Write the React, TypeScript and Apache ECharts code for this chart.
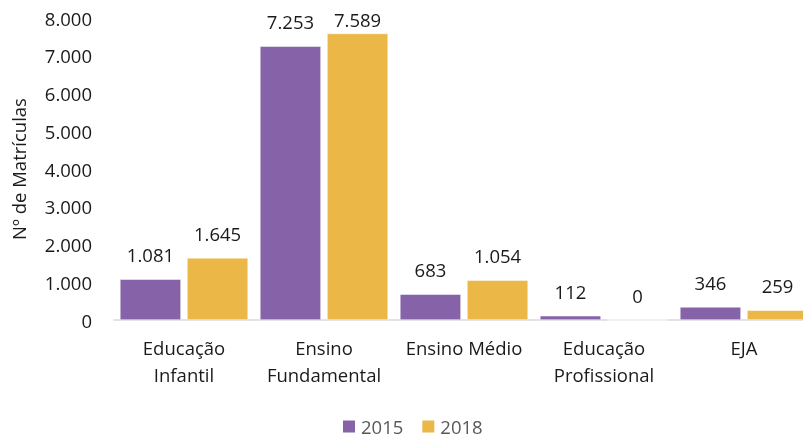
import React, { useEffect, useRef } from "react";
import * as echarts from "echarts";

const categories = ["Educação\nInfantil", "Ensino\nFundamental", "Ensino Médio", "Educação\nProfissional", "EJA"];
const series2015 = [1081, 7253, 683, 112, 346];
const series2018 = [1645, 7589, 1054, 0, 259];
const seriesNames = ["2015", "2018"];
const colors = ["#8662A8", "#EBB746"];

const fmt = (v: number) => String(v).replace(/\B(?=(\d{3})+(?!\d))/g, ".");

export default function App() {
  const ref = useRef<HTMLDivElement>(null);
  useEffect(() => {
    const chart = echarts.init(ref.current!, null, { renderer: "svg" });
    const font = "'Open Sans', sans-serif";
    const fs = 18.5;
    const mk = (name: string, data: number[], color: string) => ({
      name,
      type: "bar",
      data: data.map((v) => (v > 7400 ? { value: v, label: { distance: 5 } } : v)),
      barWidth: 61,
      barGap: "10%",
      itemStyle: { color, borderColor: "#ffffff", borderWidth: 0.5 },
      label: {
        show: true,
        position: "top",
        distance: 15,
        formatter: (p: any) => fmt(p.value),
        color: "#1a1a1a",
        fontSize: fs,
        fontFamily: font,
      },
    });
    chart.setOption({
      animation: false,
      textStyle: { fontFamily: font },
      grid: { left: 114, top: 18, width: 700, bottom: 118, containLabel: false },
      legend: {
        data: seriesNames,
        top: 417,
        left: 341,
        padding: 0,
        itemWidth: 14,
        itemHeight: 14,
        itemGap: 17,
        icon: "rect",
        textStyle: { color: "#595959", fontSize: fs, lineHeight: 19, fontFamily: font },
      },
      xAxis: {
        type: "category",
        data: categories,
        axisLine: { lineStyle: { color: "#d9d9d9", width: 1.5 } },
        axisTick: { show: false },
        axisLabel: {
          color: "#1a1a1a",
          fontSize: fs,
          lineHeight: 27,
          margin: 14,
          interval: 0,
          fontFamily: font,
        },
      },
      yAxis: {
        type: "value",
        min: 0,
        max: 8000,
        interval: 1000,
        name: "Nº de Matrículas",
        nameLocation: "middle",
        nameGap: 86,
        nameTextStyle: { color: "#1a1a1a", fontSize: fs, fontFamily: font },
        splitLine: { show: false },
        axisLine: { show: false },
        axisTick: { show: false },
        axisLabel: {
          color: "#1a1a1a",
          fontSize: fs,
          margin: 22,
          fontFamily: font,
          formatter: (v: number) => fmt(v),
        },
      },
      series: [
        mk(seriesNames[0], series2015, colors[0]),
        mk(seriesNames[1], series2018, colors[1]),
      ],
    });
    return () => chart.dispose();
  }, []);
  return (
    <div style={{ position: "fixed", left: 0, top: 0, width: 803, height: 438, overflow: "hidden" }}>
      <div ref={ref} style={{ width: 814, height: 438 }} />
    </div>
  );
}
